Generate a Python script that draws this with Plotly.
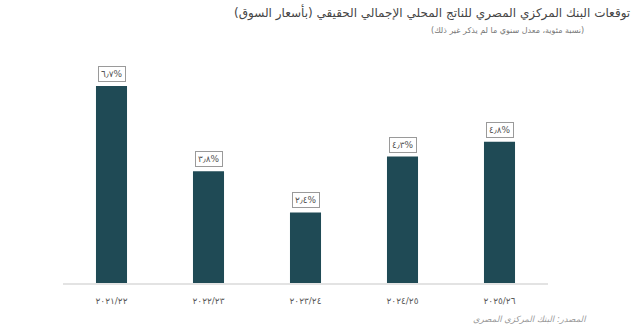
import plotly.graph_objects as go

# Fiscal years and CBE real GDP growth forecasts (%)
years = ["٢٠٢١/٢٢", "٢٠٢٢/٢٣", "٢٠٢٣/٢٤", "٢٠٢٤/٢٥", "٢٠٢٥/٢٦"]
growth = [6.7, 3.8, 2.4, 4.3, 4.8]

title_text = "توقعات البنك المركزي المصري للناتج المحلي الإجمالي الحقيقي (بأسعار السوق)"
subtitle_text = "(نسبة مئوية، معدل سنوي ما لم يذكر غير ذلك)"
source_text = "المصدر: البنك المركزي المصري"

AR_DIGITS = str.maketrans("0123456789.", "٠١٢٣٤٥٦٧٨٩٫")


def ar_pct(v):
    return f"{v:.1f}".translate(AR_DIGITS) + "%"


FONT = "DejaVu Sans"
BAR = "#1f4a55"

L, R, T, B = 63, 92, 60, 51
W, H = 640, 334
plot_w = W - L - R
plot_h = H - T - B


def px_x(px):
    return (px - L) / plot_w


def px_y(py):
    return (H - B - py) / plot_h


fig = go.Figure(
    go.Bar(
        x=years,
        y=growth,
        marker=dict(color=BAR, line=dict(width=0)),
        width=0.32,
        hoverinfo="skip",
    )
)

# Boxed value labels above each bar
for yr, v in zip(years, growth):
    fig.add_annotation(
        x=yr, y=v, xref="x", yref="y",
        text=ar_pct(v), showarrow=False,
        yanchor="bottom", yshift=4,
        font=dict(family=FONT, size=9, color="#555555"),
        bgcolor="white", bordercolor="#9a9a9a", borderwidth=1, borderpad=2,
    )

# Header, subheader and source
fig.add_annotation(
    x=px_x(632), y=px_y(12), xref="paper", yref="paper", text=title_text,
    showarrow=False, xanchor="right", yanchor="middle",
    font=dict(family=FONT, size=12, color="#454545"),
)
fig.add_annotation(
    x=px_x(586), y=px_y(30), xref="paper", yref="paper", text=subtitle_text,
    showarrow=False, xanchor="right", yanchor="middle",
    font=dict(family=FONT, size=8, color="#777777"),
)
fig.add_annotation(
    x=px_x(589), y=px_y(319), xref="paper", yref="paper",
    text=f"<i>{source_text}</i>",
    showarrow=False, xanchor="right", yanchor="middle",
    font=dict(family=FONT, size=8.5, color="#9a9a9a"),
)

fig.update_layout(
    width=W, height=H,
    margin=dict(l=L, r=R, t=T, b=B),
    paper_bgcolor="white", plot_bgcolor="white",
    showlegend=False,
    font=dict(family=FONT),
    xaxis=dict(
        showgrid=False, showline=True, linecolor="#e3e3e3", linewidth=1.5,
        ticks="", ticklabelstandoff=8,
        tickfont=dict(family=FONT, size=9, color="#5a5a5a"),
        fixedrange=True,
    ),
    yaxis=dict(range=[0, 7.58], visible=False, fixedrange=True),
)

fig.write_html("out.html")
